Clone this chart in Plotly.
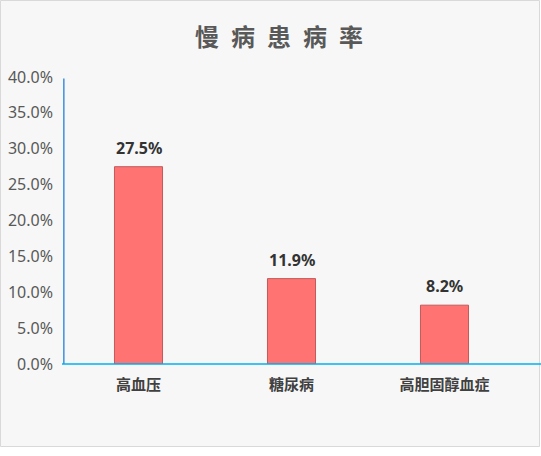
import plotly.graph_objects as go

# Chart data
categories = ["高血压", "糖尿病", "高胆固醇血症"]
rates = [0.275, 0.119, 0.082]
y_ticks = [0, 0.05, 0.10, 0.15, 0.20, 0.25, 0.30, 0.35, 0.40]

FONT = "Noto Sans, Noto Sans CJK SC, sans-serif"
CJK = "Noto Sans CJK SC, Noto Sans, sans-serif"

fig = go.Figure()
fig.add_trace(go.Bar(
    x=categories,
    y=rates,
    marker=dict(color="#ff7373", line=dict(color="#c25a5a", width=1)),
    hoverinfo="x+y",
))

# value labels above the bars
for c, v in zip(categories, rates):
    fig.add_annotation(
        x=c, y=v, text="<b>%.1f%%</b>" % (v * 100),
        showarrow=False, yanchor="bottom", yshift=6,
        font=dict(family=FONT, size=16, color="#333333"),
    )

# card background
L, R, T, B, W, H = 62, 20, 77, 92, 541, 456
pw, ph = W - L - R, H - T - B
fig.add_shape(
    type="rect", xref="paper", yref="paper", layer="below",
    x0=(0.5 - L) / pw, x1=(539.5 - L) / pw,
    y0=(H - B - 446.5) / ph, y1=(H - B - 0.5) / ph,
    fillcolor="#f7f7f7", line=dict(color="#d9d9d9", width=1),
)
# y axis line (blue) and x axis line running to the right edge
fig.add_shape(
    type="line", xref="paper", yref="paper",
    x0=0.004, x1=0.004, y0=0, y1=0.995,
    line=dict(color="#3d8fe0", width=1.5),
)
fig.add_shape(
    type="line", xref="paper", yref="paper",
    x0=0, x1=(W - L) / pw, y0=0, y1=0,
    line=dict(color="#00b0f0", width=1.5),
)

fig.update_layout(
    width=W, height=H,
    margin=dict(l=L, r=R, t=T, b=B),
    paper_bgcolor="white",
    plot_bgcolor="rgba(0,0,0,0)",
    showlegend=False,
    bargap=0.686,
    title=dict(
        text="<b>慢\u2002病\u2002患\u2002病\u2002率</b>",
        x=279 / W, xanchor="center",
        y=1 - 38 / H, yanchor="middle",
        font=dict(family=CJK, size=24, color="#595959"),
    ),
    xaxis=dict(
        showline=False, showgrid=False, ticks="", automargin=False,
        tickfont=dict(family=CJK, size=15, color="#404040", weight="bold"),
        ticklabelstandoff=10,
    ),
    yaxis=dict(
        range=[0, 0.4], tickvals=y_ticks, tickformat=".1%", automargin=False,
        showline=False, showgrid=False, zeroline=False, ticks="",
        tickfont=dict(family=FONT, size=16, color="#595959"),
        ticklabelstandoff=8,
    ),
)

# page body margin off so the card sits at the window corner
fig.write_html("out.html", config={"displayModeBar": False},
               post_script="document.body.style.margin='0';")
